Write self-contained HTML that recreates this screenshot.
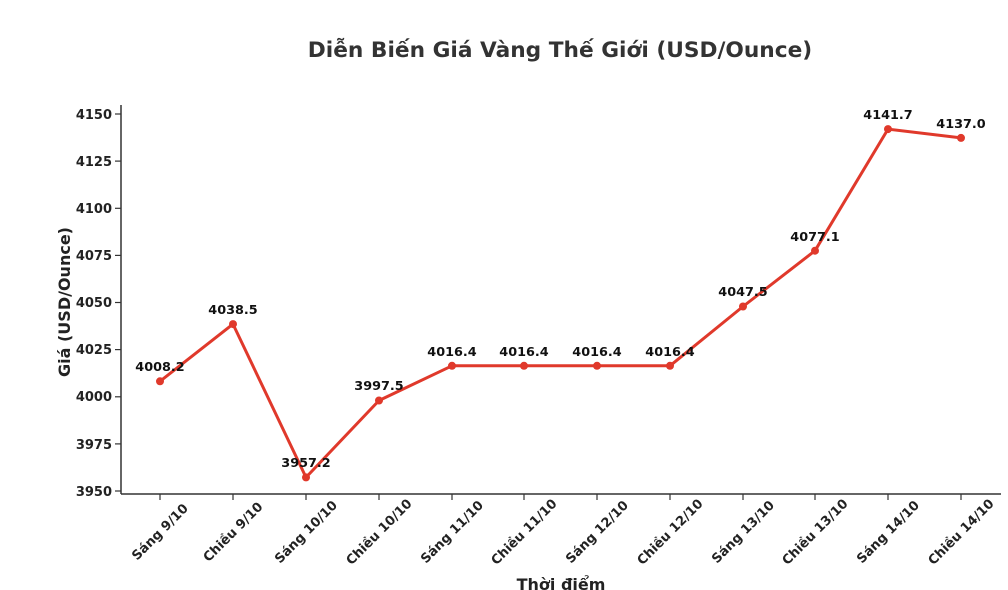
<!DOCTYPE html>
<html><head><meta charset="utf-8"><style>
body{margin:0;background:#fff}
svg{display:block;font-family:"DejaVu Sans","Liberation Sans",sans-serif;font-weight:bold}
</style></head><body>
<svg width="1008" height="590" viewBox="0 0 1008 590">
<text x="560" y="57" text-anchor="middle" font-size="21.7" fill="#333">Diễn Biến Giá Vàng Thế Giới (USD/Ounce)</text>
<g stroke="#333" stroke-width="1.5" fill="none">
<line x1="121" y1="105" x2="121" y2="494"/>
<line x1="121" y1="494" x2="1001" y2="494"/>
</g>
<g stroke="#333" stroke-width="1.2">
<line x1="115" y1="114" x2="121" y2="114"/><line x1="115" y1="161.1" x2="121" y2="161.1"/><line x1="115" y1="208.3" x2="121" y2="208.3"/><line x1="115" y1="255.4" x2="121" y2="255.4"/><line x1="115" y1="302.5" x2="121" y2="302.5"/><line x1="115" y1="349.6" x2="121" y2="349.6"/><line x1="115" y1="396.8" x2="121" y2="396.8"/><line x1="115" y1="443.9" x2="121" y2="443.9"/><line x1="115" y1="491" x2="121" y2="491"/>
</g>
<g font-size="13" fill="#222" text-anchor="end">
<text x="112" y="119">4150</text><text x="112" y="166">4125</text><text x="112" y="213">4100</text><text x="112" y="260">4075</text><text x="112" y="307">4050</text><text x="112" y="354">4025</text><text x="112" y="401">4000</text><text x="112" y="449">3975</text><text x="112" y="496">3950</text>
</g>
<text transform="translate(70,302) rotate(-90)" text-anchor="middle" font-size="16" fill="#222">Giá (USD/Ounce)</text>
<text x="561" y="590" text-anchor="middle" font-size="16" fill="#222">Thời điểm</text>
<g stroke="#333" stroke-width="1.2">
<line x1="160" y1="494" x2="160" y2="500"/><line x1="233" y1="494" x2="233" y2="500"/><line x1="306" y1="494" x2="306" y2="500"/><line x1="379" y1="494" x2="379" y2="500"/><line x1="452" y1="494" x2="452" y2="500"/><line x1="524" y1="494" x2="524" y2="500"/><line x1="597" y1="494" x2="597" y2="500"/><line x1="670" y1="494" x2="670" y2="500"/><line x1="743" y1="494" x2="743" y2="500"/><line x1="815" y1="494" x2="815" y2="500"/><line x1="888" y1="494" x2="888" y2="500"/><line x1="961" y1="494" x2="961" y2="500"/>
</g>
<g font-size="13" fill="#222" text-anchor="middle">
<text transform="translate(163,535) rotate(-45)">Sáng 9/10</text>
<text transform="translate(236,535) rotate(-45)">Chiều 9/10</text>
<text transform="translate(309,535) rotate(-45)">Sáng 10/10</text>
<text transform="translate(382,535) rotate(-45)">Chiều 10/10</text>
<text transform="translate(455,535) rotate(-45)">Sáng 11/10</text>
<text transform="translate(527,535) rotate(-45)">Chiều 11/10</text>
<text transform="translate(600,535) rotate(-45)">Sáng 12/10</text>
<text transform="translate(673,535) rotate(-45)">Chiều 12/10</text>
<text transform="translate(746,535) rotate(-45)">Sáng 13/10</text>
<text transform="translate(818,535) rotate(-45)">Chiều 13/10</text>
<text transform="translate(891,535) rotate(-45)">Sáng 14/10</text>
<text transform="translate(964,535) rotate(-45)">Chiều 14/10</text>
</g>
<polyline fill="none" stroke="#e0392b" stroke-width="3" stroke-linejoin="round" points="160,381.3 233,324.1 306,477.4 379,400.5 452,365.8 524,365.8 597,365.8 670,365.8 743,306.5 815,250.7 888,129.1 961,137.9"/>
<g fill="#e0392b">
<circle cx="160" cy="381.3" r="4"/><circle cx="233" cy="324.1" r="4"/><circle cx="306" cy="477.4" r="4"/><circle cx="379" cy="400.5" r="4"/><circle cx="452" cy="365.8" r="4"/><circle cx="524" cy="365.8" r="4"/><circle cx="597" cy="365.8" r="4"/><circle cx="670" cy="365.8" r="4"/><circle cx="743" cy="306.5" r="4"/><circle cx="815" cy="250.7" r="4"/><circle cx="888" cy="129.1" r="4"/><circle cx="961" cy="137.9" r="4"/>
</g>
<g font-size="12.8" fill="#111" text-anchor="middle">
<text x="160" y="371">4008.2</text><text x="233" y="314">4038.5</text><text x="306" y="467">3957.2</text><text x="379" y="390">3997.5</text><text x="452" y="356">4016.4</text><text x="524" y="356">4016.4</text><text x="597" y="356">4016.4</text><text x="670" y="356">4016.4</text><text x="743" y="296">4047.5</text><text x="815" y="241">4077.1</text><text x="888" y="119">4141.7</text><text x="961" y="128">4137.0</text>
</g>
</svg>
</body></html>
